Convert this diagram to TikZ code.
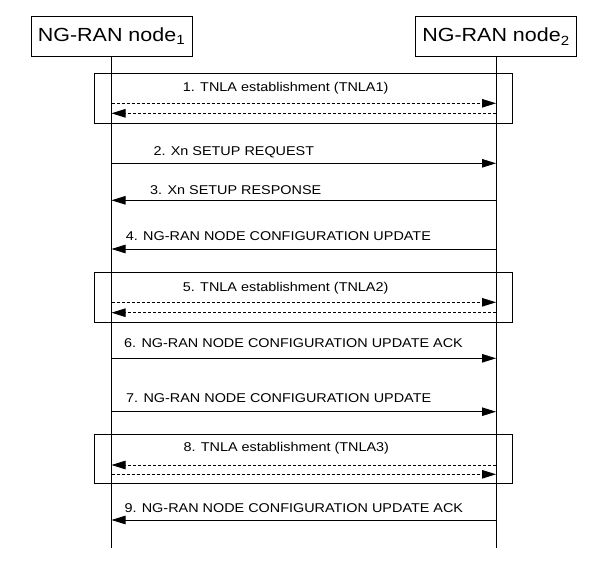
\documentclass[tikz,border=0pt]{standalone}
\usepackage{fontspec}
\setmainfont{Liberation Sans}[FakeStretch=1.13]
\usetikzlibrary{arrows.meta}
\tikzset{
  x=1pt, y=-1pt,
  entity/.style={draw, line width=0.8pt, minimum width=161pt, minimum height=40pt, inner sep=0pt,
    font=\fontsize{19}{21}\selectfont},
  lifeline/.style={line width=0.8pt},
  msg/.style={line width=0.8pt, -{Triangle[length=14pt,width=8.5pt]}},
  dmsg/.style={msg, dash pattern=on 3pt off 2pt},
  frame/.style={line width=0.8pt},
  lbl/.style={anchor=base west, inner sep=0pt, font=\fontsize{12.75}{15}\selectfont},
}
\begin{document}
\begin{tikzpicture}
\useasboundingbox (0,0) rectangle (606,567);
\node[entity] (n1) at (111.5,36.5) {NG-RAN node\textsubscript{1}};
\node[entity] (n2) at (496,36.5) {NG-RAN node\textsubscript{2}};
\coordinate (e1) at (111.5,548);
\coordinate (e2) at (496,548);
\draw[lifeline] (n1.south) -- (e1);
\draw[lifeline] (n2.south) -- (e2);

% frames
\draw[frame] (94,73.3) rectangle (512.7,123.3);
\draw[frame] (94,272) rectangle (512.7,322);
\draw[frame] (94,434.3) rectangle (512.7,483.3);

% coordinates on lifelines
\foreach \name/\y in {a/103.3, b/113.3, c/163.3, d/200.3, e/249, f/302.3, g/312.7, h/358.3, i/411.7, j/465, k/474.3, l/520}{
  \coordinate (L\name) at (111.5,\y);
  \coordinate (R\name) at (496,\y);
}

% 1
\node[lbl] (t1) at (182.7,91.7) {1. TNLA establishment (TNLA1)};
\draw[dmsg] (La) -- (Ra);
\draw[dmsg] (Rb) -- (Lb);
% 2
\node[lbl] (t2) at (153.3,156) {2. Xn SETUP REQUEST};
\draw[msg] (Lc) -- (Rc);
% 3
\node[lbl] (t3) at (150,195) {3. Xn SETUP RESPONSE};
\draw[msg] (Rd) -- (Ld);
% 4
\node[lbl] (t4) at (125.7,241) {4. NG-RAN NODE CONFIGURATION UPDATE};
\draw[msg] (Re) -- (Le);
% 5
\node[lbl] (t5) at (182.7,291.7) {5. TNLA establishment (TNLA2)};
\draw[dmsg] (Lf) -- (Rf);
\draw[dmsg] (Rg) -- (Lg);
% 6
\node[lbl] (t6) at (124,348) {6. NG-RAN NODE CONFIGURATION UPDATE ACK};
\draw[msg] (Lh) -- (Rh);
% 7
\node[lbl] (t7) at (126,402.3) {7. NG-RAN NODE CONFIGURATION UPDATE};
\draw[msg] (Li) -- (Ri);
% 8
\node[lbl] (t8) at (183.3,451.7) {8. TNLA establishment (TNLA3)};
\draw[dmsg] (Rj) -- (Lj);
\draw[dmsg] (Lk) -- (Rk);
% 9
\node[lbl] (t9) at (124.3,512.3) {9. NG-RAN NODE CONFIGURATION UPDATE ACK};
\draw[msg] (Rl) -- (Ll);
\end{tikzpicture}
\end{document}
